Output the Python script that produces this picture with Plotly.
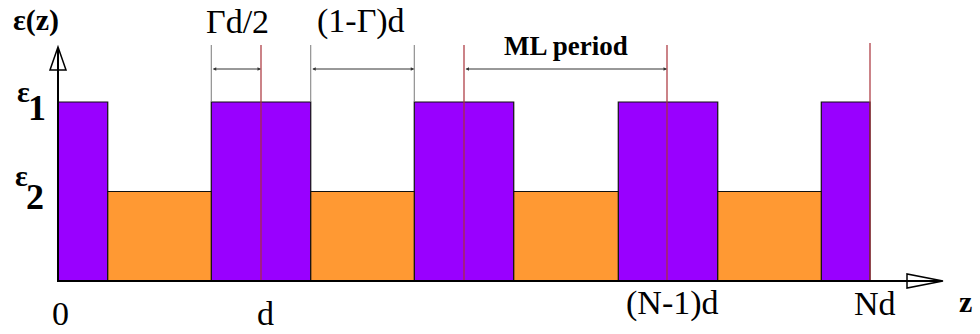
import plotly.graph_objects as go

# ---- data (units: z in periods d, epsilon levels) ----
eps1_left = [0.0, 0.755, 1.755, 2.76, 3.76]
eps1_right = [0.245, 1.245, 2.245, 3.25, 4.0]
eps1_value = 2.0
eps2_left = [0.245, 1.245, 2.245, 3.25]
eps2_right = [0.755, 1.755, 2.76, 3.76]
eps2_value = 1.0
period_marks = [1.0, 2.0, 3.0, 4.0]          # red lines at d, 2d, (N-1)d, Nd
gamma_marks = [0.755, 1.245, 1.755]          # grey dimension lines
tick_labels_low = [(0.0, "0"), (1.0, "d")]
tick_labels_high = [(3.0, "(N-1)d"), (4.0, "Nd")]

PURPLE = "#9900FF"
ORANGE = "#FF9933"
RED = "#A83038"
GREY = "#7a7a7a"
SERIF = "Liberation Serif"

W, H = 980, 334
X0, SX = 58, 203.0      # pixel of z=0, pixels per d
Y0, SY = 281, 89.5      # pixel of eps=0, pixels per unit


def dx(px):
    return (px - X0) / SX


def dy(py):
    return (Y0 - py) / SY


fig = go.Figure()

for lefts, rights, val, col in [(eps1_left, eps1_right, eps1_value, PURPLE),
                                (eps2_left, eps2_right, eps2_value, ORANGE)]:
    fig.add_trace(go.Bar(
        x=[(l + r) / 2 for l, r in zip(lefts, rights)],
        y=[val] * len(lefts),
        width=[r - l for l, r in zip(lefts, rights)],
        marker=dict(color=col, line=dict(color="#111", width=1.2)),
        hoverinfo="skip", showlegend=False,
    ))

shapes = []
top = dy(45)
for z in period_marks:
    shapes.append(dict(type="line", xref="x", yref="y", x0=z, x1=z, y0=0,
                       y1=dy(43) if z == 4.0 else top,
                       line=dict(color=RED, width=1.2)))
for z in gamma_marks:
    shapes.append(dict(type="line", xref="x", yref="y", x0=z, x1=z,
                       y0=eps1_value, y1=top, line=dict(color=GREY, width=1)))
# axes
shapes.append(dict(type="line", xref="x", yref="y", x0=0, x1=0, y0=0, y1=dy(48),
                   line=dict(color="black", width=2)))
shapes.append(dict(type="line", xref="x", yref="y", x0=dx(57), x1=dx(942), y0=0, y1=0,
                   line=dict(color="black", width=2.2)))
# hollow arrowheads
shapes.append(dict(type="path", xref="x", yref="y",
                   path=f"M {dx(58)} {dy(47)} L {dx(50)} {dy(70)} L {dx(66)} {dy(70)} Z",
                   line=dict(color="black", width=1.5), fillcolor="rgba(0,0,0,0)"))
shapes.append(dict(type="path", xref="x", yref="y",
                   path=f"M {dx(943)} {dy(281)} L {dx(907)} {dy(274)} L {dx(907)} {dy(288)} Z",
                   line=dict(color="black", width=1.5), fillcolor="rgba(0,0,0,0)"))

ann = []
ay = dy(69)
for a, b in [(0.755, 1.0), (1.245, 1.755), (2.0, 3.0)]:
    ann.append(dict(x=b, y=ay, ax=a, ay=ay, xref="x", yref="y", axref="x", ayref="y",
                    text="", showarrow=True, arrowhead=2, arrowside="end+start",
                    arrowsize=0.7, arrowwidth=1, arrowcolor="#333", standoff=0,
                    startstandoff=0))


def label(px, py, text, size, bold=False):
    t = f"<b>{text}</b>" if bold else text
    ann.append(dict(x=px / W, y=1 - py / H, xref="paper", yref="paper", text=t,
                    showarrow=False, xanchor="center", yanchor="middle",
                    font=dict(family=SERIF, size=size, color="black")))


label(36, 20, "ε(z)", 30, True)
label(237, 21, "Γd/2", 34)
label(361, 21, "(1-Γ)d", 34)
label(566, 46, "ML period", 27, True)
label(23, 92, "ε", 30, True)
label(37, 108, "1", 36, True)
label(21, 175, "ε", 30, True)
label(35, 197, "2", 36, True)
for z, t in tick_labels_low:
    label(X0 + SX * z + (2 if z == 0 else 4), 313, t, 34)
for z, t in tick_labels_high:
    label(X0 + SX * z + 5, 303, t, 34)
label(965, 301, "z", 30, True)

fig.update_layout(
    width=W, height=H, margin=dict(l=0, r=0, t=0, b=0),
    paper_bgcolor="white", plot_bgcolor="white",
    barmode="overlay",
    xaxis=dict(range=[dx(0), dx(W)], visible=False, fixedrange=True),
    yaxis=dict(range=[dy(H), dy(0)], visible=False, fixedrange=True),
    shapes=shapes, annotations=ann, showlegend=False,
)

fig.write_html("out.html")
